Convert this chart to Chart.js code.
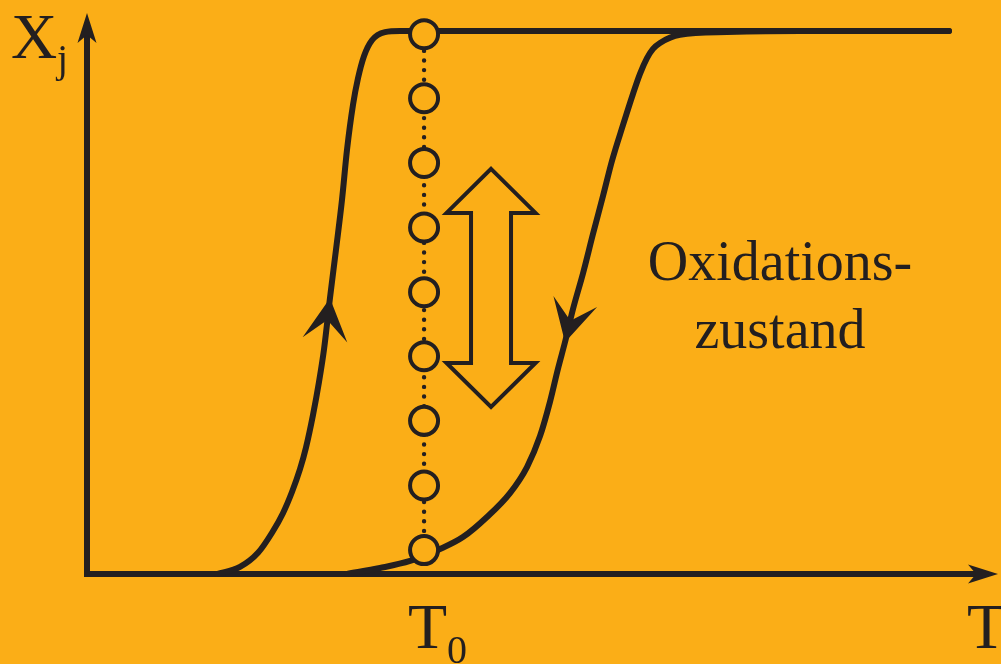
<!DOCTYPE html>
<html>
<head>
<meta charset="utf-8">
<script src="https://cdn.jsdelivr.net/npm/chart.js@4.4.1/dist/chart.umd.min.js"></script>
<style>
  html, body { margin: 0; padding: 0; background: #fbae17; overflow: hidden; }
  #chart { display: block; }
  .preload { font-family: "Liberation Serif"; position: absolute; left: -9999px; top: 0; }
</style>
</head>
<body>
<span class="preload">Xj T0 Oxidations-zustand</span>
<canvas id="chart" width="1001" height="664"></canvas>
<script>
// heating branch (T rising), T in arbitrary units 0..100, X_j 0..1
const heatT = [14.27, 16.79, 18.77, 20.31, 21.51, 22.50, 23.38, 24.04, 24.81, 25.47, 26.02, 26.67,
  27.33, 27.99, 28.54, 29.20, 29.75, 30.41, 31.28, 32.71, 34.36, 36.99, 94.62];
const heatX = [0, 0.013, 0.039, 0.076, 0.112, 0.151, 0.193, 0.233, 0.293, 0.354, 0.414, 0.508,
  0.597, 0.689, 0.781, 0.864, 0.913, 0.954, 0.983, 0.998, 1, 1, 1];

// cooling branch (T falling), listed left to right
const coolT = [28.54, 32.16, 35.46, 38.75, 41.27, 43.91, 46.43, 48.30, 49.73, 50.82, 51.70, 52.47,
  53.35, 54.45, 55.54, 56.64, 57.63, 58.84, 59.93, 60.70, 61.47, 62.13, 62.90, 65.09, 70.25, 78.27, 94.62];
const coolX = [0, 0.011, 0.024, 0.046, 0.068, 0.105, 0.149, 0.197, 0.254, 0.317, 0.378, 0.427,
  0.488, 0.554, 0.626, 0.696, 0.761, 0.827, 0.884, 0.921, 0.950, 0.967, 0.978, 0.993, 0.998, 1, 1];

// where the direction arrows sit on each branch (index into the arrays above)
const heatArrowIdx = 11;
const coolArrowIdx = 11;

// isothermal probe at T0
const T0 = 37.0;
const probeX = [0.044, 0.163, 0.282, 0.401, 0.519, 0.638, 0.757, 0.876, 0.994];

// double arrow (oscillation of the oxidation state)
const swingT = 44.35;
const swingX = [0.3075, 0.746];

const labelX = ["X", "j"];
const labelT = "T";
const labelT0 = ["T", "0"];
const noteLines = ["Oxidations-", "zustand"];

const ink = "#231f20";
const bg = "#fbae17";
const serif = '"Liberation Serif", "Times New Roman", serif';

const pts = (xs, ys) => xs.map((v, i) => ({ x: v, y: ys[i] }));

function arrowHead(ctx, tx, ty, dx, dy, len, half, notch) {
  const bx = tx - dx * len, by = ty - dy * len;
  const px = -dy, py = dx;
  ctx.beginPath();
  ctx.moveTo(tx, ty);
  ctx.lineTo(bx + px * half, by + py * half);
  ctx.lineTo(tx - dx * notch, ty - dy * notch);
  ctx.lineTo(bx - px * half, by - py * half);
  ctx.closePath();
  ctx.fill();
}

const sketch = {
  id: "sketch",
  beforeDatasetsDraw(chart) {
    const { ctx, chartArea } = chart;
    const xs = chart.scales.x, ys = chart.scales.y;
    const ox = xs.getPixelForValue(0), oy = ys.getPixelForValue(0);
    ctx.save();
    ctx.strokeStyle = ink;
    ctx.fillStyle = ink;
    ctx.lineWidth = 6;
    ctx.beginPath();
    ctx.moveTo(ox, oy + 3);
    ctx.lineTo(ox, chartArea.top + 20);
    ctx.stroke();
    ctx.beginPath();
    ctx.moveTo(ox - 3, oy);
    ctx.lineTo(chartArea.right - 20, oy);
    ctx.stroke();
    arrowHead(ctx, ox, chartArea.top, 0, -1, 30, 9.5, 22);
    arrowHead(ctx, chartArea.right, oy, 1, 0, 30, 9.5, 22);

    // double arrow
    const cx = xs.getPixelForValue(swingT);
    const yb = ys.getPixelForValue(swingX[0]);
    const yt = ys.getPixelForValue(swingX[1]);
    const hw = 44.5, sw = 20, hh = 44;
    ctx.lineWidth = 4;
    ctx.lineJoin = "miter";
    ctx.beginPath();
    ctx.moveTo(cx, yt);
    ctx.lineTo(cx + hw, yt + hh);
    ctx.lineTo(cx + sw, yt + hh);
    ctx.lineTo(cx + sw, yb - hh);
    ctx.lineTo(cx + hw, yb - hh);
    ctx.lineTo(cx, yb);
    ctx.lineTo(cx - hw, yb - hh);
    ctx.lineTo(cx - sw, yb - hh);
    ctx.lineTo(cx - sw, yt + hh);
    ctx.lineTo(cx - hw, yt + hh);
    ctx.closePath();
    ctx.stroke();
    ctx.restore();
  },
  afterDatasetsDraw(chart) {
    const { ctx } = chart;
    ctx.save();
    ctx.fillStyle = ink;
    const marks = [[2, heatArrowIdx, 1], [3, coolArrowIdx, -1]];
    marks.forEach(([ds, i, dir]) => {
      const d = chart.getDatasetMeta(ds).data;
      const a = d[i - dir], b = d[i + dir], p = d[i];
      let dx = b.x - a.x, dy = b.y - a.y;
      const n = Math.hypot(dx, dy);
      dx /= n; dy /= n;
      arrowHead(ctx, p.x, p.y, dx, dy, 42, 22.5, 22);
    });
    ctx.restore();
  },
  afterDraw(chart) {
    const { ctx, chartArea } = chart;
    const xs = chart.scales.x, ys = chart.scales.y;
    const ox = xs.getPixelForValue(0), oy = ys.getPixelForValue(0);
    const t0 = xs.getPixelForValue(T0);
    ctx.save();
    ctx.fillStyle = ink;
    ctx.textAlign = "left";
    ctx.textBaseline = "alphabetic";
    ctx.font = "64px " + serif;
    ctx.fillText(labelX[0], ox - 76, chartArea.top + 45);
    ctx.fillText(labelT0[0], t0 - 16, oy + 74);
    ctx.fillText(labelT, chartArea.right - 31, oy + 74);
    ctx.font = "40px " + serif;
    ctx.fillText(labelX[1], ox - 30, chartArea.top + 59);
    ctx.fillText(labelT0[1], t0 + 23, oy + 89);
    ctx.font = "56px " + serif;
    ctx.textAlign = "center";
    ctx.fillText(noteLines[0], 780, 280);
    ctx.fillText(noteLines[1], 780, 348);
    ctx.restore();
  }
};

const curveStyle = {
  showLine: true,
  borderColor: ink,
  borderWidth: 6,
  borderCapStyle: "round",
  borderJoinStyle: "round",
  cubicInterpolationMode: "monotone",
  pointRadius: 0,
  clip: false
};

const chart = new Chart(document.getElementById("chart"), {
  type: "scatter",
  data: {
    datasets: [
      {
        data: probeX.map(v => ({ x: T0, y: v })),
        pointRadius: 14,
        pointBorderWidth: 4,
        pointBorderColor: ink,
        pointBackgroundColor: bg,
        clip: false
      },
      {
        data: [{ x: T0, y: probeX[0] }, { x: T0, y: probeX[probeX.length - 1] }],
        showLine: true,
        borderColor: ink,
        borderWidth: 4.4,
        borderDash: [0, 9.6],
        borderCapStyle: "round",
        pointRadius: 0,
        clip: false
      },
      Object.assign({ data: pts(heatT, heatX) }, curveStyle),
      Object.assign({ data: pts(coolT, coolX) }, curveStyle)
    ]
  },
  options: {
    responsive: false,
    animation: false,
    events: [],
    layout: { autoPadding: false, padding: { left: 87, right: 3, top: 13, bottom: 90 } },
    plugins: { legend: { display: false }, tooltip: { enabled: false } },
    scales: {
      x: { type: "linear", min: 0, max: 100, display: false },
      y: { type: "linear", min: 0, max: 1.0331, display: false }
    }
  },
  plugins: [sketch]
});

document.fonts.load('64px "Liberation Serif"').then(() => chart.draw());
</script>
</body>
</html>
